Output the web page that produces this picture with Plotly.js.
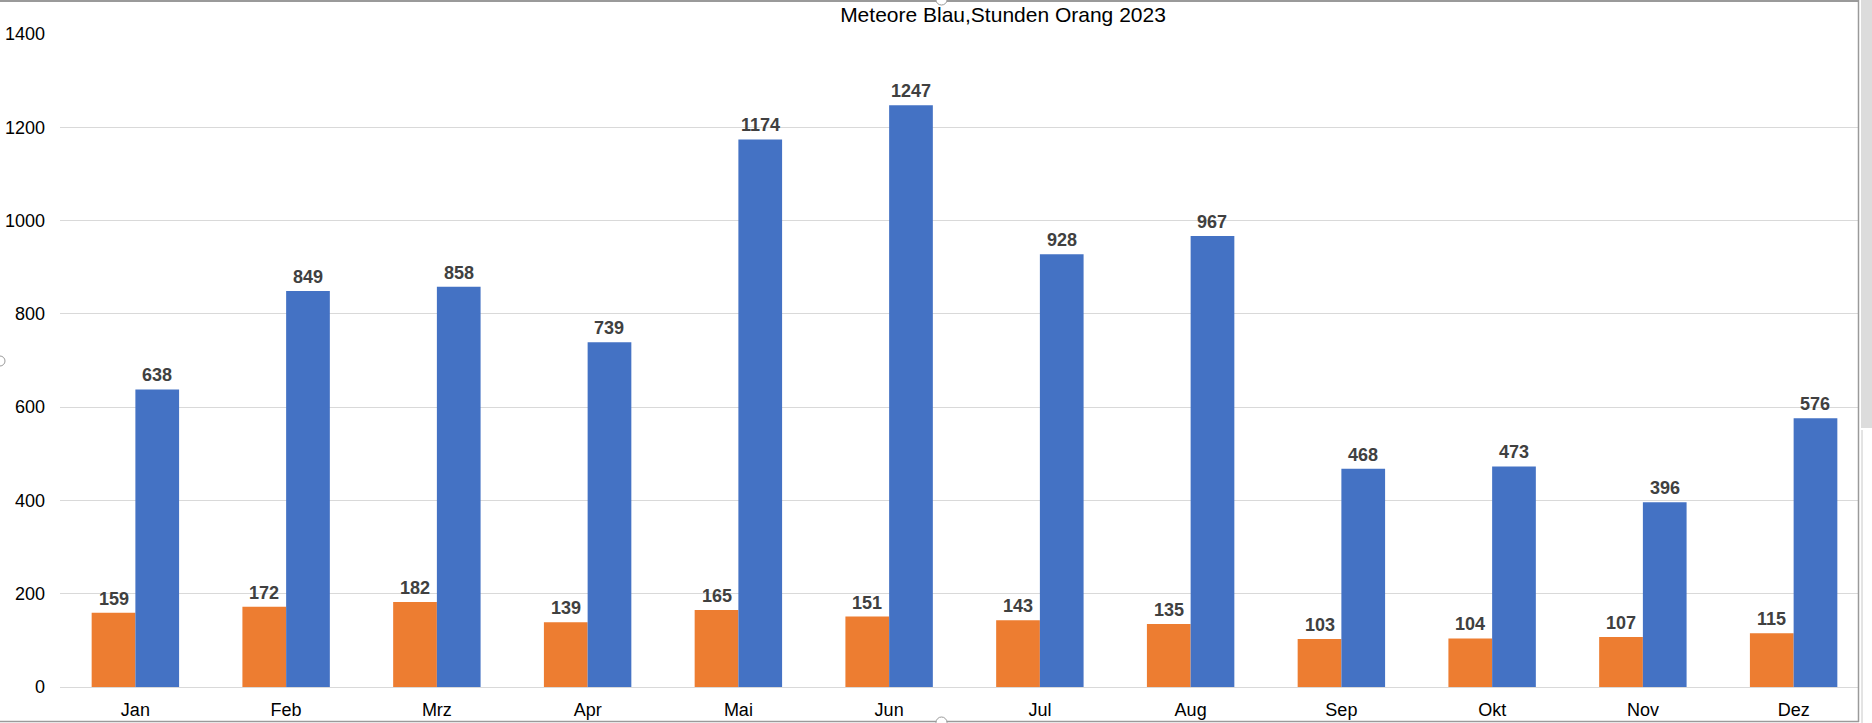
<!DOCTYPE html>
<html>
<head>
<meta charset="utf-8">
<script src="https://cdn.plot.ly/plotly-3.0.1.min.js"></script>
<style>
  html, body { margin: 0; padding: 0; background: #fff; }
  #chart { width: 1872px; height: 723px; }
</style>
</head>
<body>
<div id="chart"></div>
<script>
const months = ['Jan', 'Feb', 'Mrz', 'Apr', 'Mai', 'Jun', 'Jul', 'Aug', 'Sep', 'Okt', 'Nov', 'Dez'];
const stunden = [159, 172, 182, 139, 165, 151, 143, 135, 103, 104, 107, 115];
const meteore = [638, 849, 858, 739, 1174, 1247, 928, 967, 468, 473, 396, 576];
const yTicks = [0, 200, 400, 600, 800, 1000, 1200, 1400];

const font = 'Liberation Sans, Arial, sans-serif';
const labelFont = { family: font, size: 18, color: '#404040' };

const W = 1872, H = 723;
const mL = 60, mR = 3, mT = 34, mB = 36;
const catW = (W - mL - mR) / months.length;
const bargap = 0.42;
const barW = catW * (1 - bargap) / 2;

function barTrace(name, values, color) {
  return {
    type: 'bar',
    name: name,
    x: months,
    y: values,
    marker: { color: color },
    hoverinfo: 'skip',
  };
}

const data = [
  barTrace('Stunden', stunden, '#ED7D31'),
  barTrace('Meteore', meteore, '#4472C4'),
];

/* value labels above each bar, shifted onto its half of the group */
function labels(values, shift) {
  return values.map((v, i) => ({
    x: months[i],
    y: v,
    xref: 'x',
    yref: 'y',
    text: '<b>' + v + '</b>',
    showarrow: false,
    xanchor: 'center',
    yanchor: 'bottom',
    xshift: shift,
    yshift: 2,
    font: labelFont,
  }));
}

/* window edges: pixels to paper units of the plot area */
const plotW = W - mL - mR;
const plotH = H - mT - mB;
const px = (x) => (x - mL) / plotW;
const py = (y) => (H - mB - y) / plotH;

const shapes = [
  // grey strip on the right, cut off part of the sheet
  { type: 'rect', xref: 'paper', yref: 'paper', layer: 'above',
    x0: px(1859), x1: px(1872), y0: py(723), y1: py(0),
    line: { width: 0 }, fillcolor: '#ffffff' },
  { type: 'rect', xref: 'paper', yref: 'paper', layer: 'above',
    x0: px(1861), x1: px(1872), y0: py(428), y1: py(0),
    line: { width: 0 }, fillcolor: '#dcdcdc' },
  // chart border
  { type: 'line', xref: 'paper', yref: 'paper', layer: 'above',
    x0: px(0), x1: px(1859), y0: py(1), y1: py(1),
    line: { color: '#9a9a9a', width: 2 } },
  { type: 'line', xref: 'paper', yref: 'paper', layer: 'above',
    x0: px(1858.5), x1: px(1858.5), y0: py(0), y1: py(722),
    line: { color: '#9a9a9a', width: 1.5 } },
  { type: 'line', xref: 'paper', yref: 'paper', layer: 'above',
    x0: px(0), x1: px(1859), y0: py(721.5), y1: py(721.5),
    line: { color: '#9a9a9a', width: 1.5 } },
  { type: 'line', xref: 'paper', yref: 'paper', layer: 'above',
    x0: px(1862), x1: px(1862), y0: py(430), y1: py(723),
    line: { color: '#c8c8c8', width: 1 } },
  // selection handles
  { type: 'circle', xref: 'paper', yref: 'paper', layer: 'above',
    x0: px(936), x1: px(947), y0: py(-5), y1: py(5),
    line: { color: '#9a9a9a', width: 1 }, fillcolor: '#ffffff' },
  { type: 'circle', xref: 'paper', yref: 'paper', layer: 'above',
    x0: px(936), x1: px(947), y0: py(717), y1: py(728),
    line: { color: '#9a9a9a', width: 1 }, fillcolor: '#ffffff' },
  { type: 'circle', xref: 'paper', yref: 'paper', layer: 'above',
    x0: px(-5), x1: px(5), y0: py(356), y1: py(366),
    line: { color: '#9a9a9a', width: 1 }, fillcolor: '#ffffff' },
];

const layout = {
  width: W,
  height: H,
  margin: { l: mL, r: mR, t: mT, b: mB },
  paper_bgcolor: '#ffffff',
  plot_bgcolor: '#ffffff',
  showlegend: false,
  barmode: 'group',
  bargap: bargap,
  bargroupgap: 0,
  title: {
    text: 'Meteore Blau,Stunden Orang 2023',
    font: { family: font, size: 21, color: '#000000' },
    xref: 'container',
    yref: 'container',
    x: 1003 / W,
    xanchor: 'center',
    y: 1 - 15 / H,
    yanchor: 'middle',
  },
  xaxis: {
    type: 'category',
    showgrid: false,
    showline: false,
    ticks: '',
    ticklabelstandoff: 10,
    tickfont: { family: font, size: 18, color: '#000000' },
    fixedrange: true,
  },
  yaxis: {
    range: [0, 1400],
    tickvals: yTicks,
    ticktext: yTicks.map(String),
    showgrid: true,
    gridcolor: '#d9d9d9',
    gridwidth: 1,
    zeroline: true,
    zerolinecolor: '#d9d9d9',
    zerolinewidth: 1,
    showline: false,
    ticks: '',
    ticklabelstandoff: 14,
    tickfont: { family: font, size: 18, color: '#000000' },
    fixedrange: true,
  },
  annotations: labels(stunden, -barW / 2).concat(labels(meteore, barW / 2)),
  shapes: shapes,
};

const config = {
  responsive: false,
  displayModeBar: false,
  staticPlot: true,
};

Plotly.newPlot('chart', data, layout, config);
</script>
</body>
</html>
